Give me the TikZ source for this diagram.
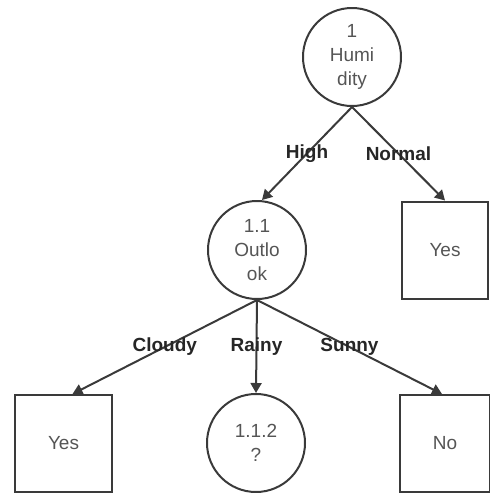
\documentclass[tikz,border=0pt]{standalone}
\usepackage{fontspec}
\setmainfont{Liberation Sans}
\usetikzlibrary{arrows.meta}
\definecolor{txtgray}{HTML}{555555}
\definecolor{linegray}{HTML}{3A3A3A}
\begin{document}
\begin{tikzpicture}[x=1pt,y=-1pt,
  circnode/.style={circle,draw=linegray,line width=2pt,minimum size=98pt,inner sep=0pt,
    align=center,text=txtgray,font=\fontsize{19}{24}\selectfont},
  leafbox/.style={rectangle,draw=linegray,line width=2pt,minimum width=#1,minimum height=97pt,
    inner sep=0pt,text=txtgray,font=\fontsize{19}{24}\selectfont},
  conn/.style={draw=linegray,line width=2pt,-{Triangle[length=10pt,width=11pt]}},
  elabel/.style={font=\bfseries\fontsize{19}{24}\selectfont,text=black!85,inner sep=1pt}
]
\useasboundingbox (0,0) rectangle (490,493);
\node[circnode] (root) at (352,57) {1\\Humi\\dity};
\node[circnode] (n11) at (257,250) {1.1\\Outlo\\ok};
\node[leafbox=86pt] (yes1) at (445,250) {Yes};
\node[leafbox=97pt] (yes2) at (63.5,443.5) {Yes};
\node[circnode] (n112) at (256,443) {1.1.2\\?};
\node[leafbox=90pt] (no) at (445,443.5) {No};

\draw[conn] (root.south) -- ([xshift=5pt]n11.north) node[midway,elabel] {High};
\draw[conn] (root.south) -- (yes1.north) node[midway,elabel] {Normal};
\draw[conn] (n11.south) -- ([xshift=9pt]yes2.north) node[midway,elabel] {Cloudy};
\draw[conn] (n11.south) -- (n112.north) node[midway,elabel] {Rainy};
\draw[conn] (n11.south) -- ([xshift=-3pt]no.north) node[midway,elabel] {Sunny};
\end{tikzpicture}
\end{document}
